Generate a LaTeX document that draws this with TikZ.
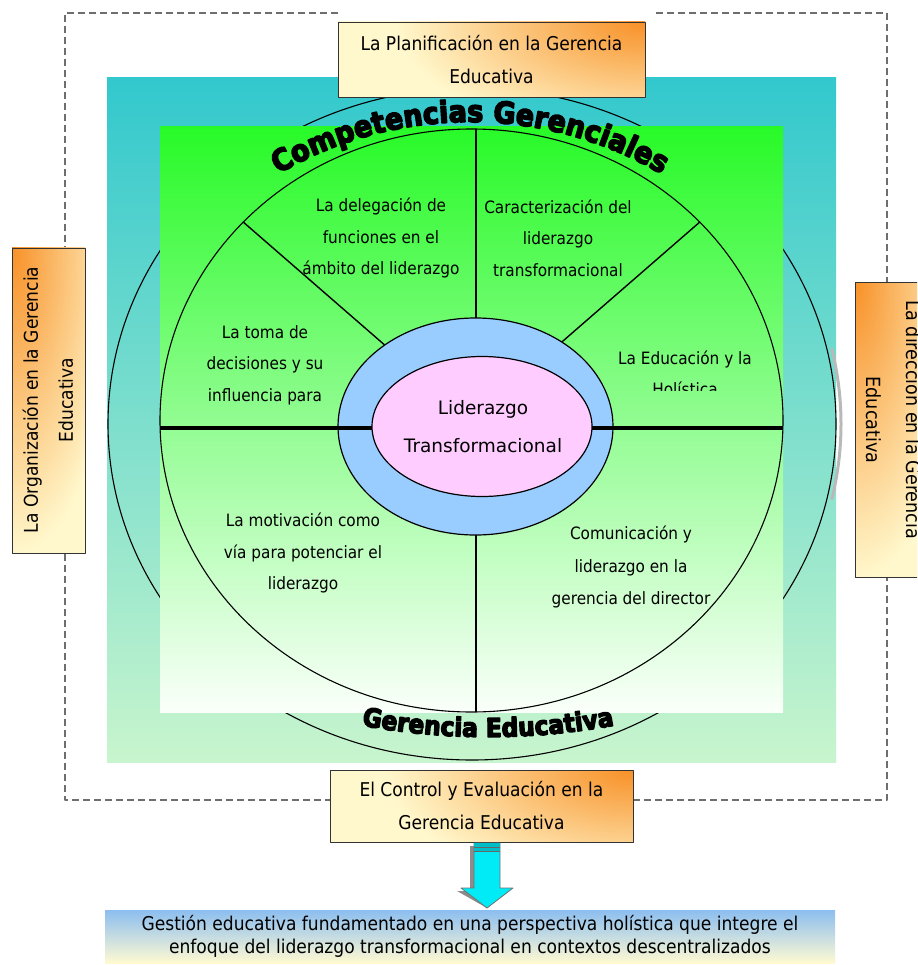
\documentclass[tikz,border=0pt]{standalone}
\usepackage{fontspec}
\setmainfont{DejaVu Sans Condensed}
\newfontfamily\comicf{DejaVu Sans}
\newfontfamily\heavyf[FakeBold=5]{DejaVu Sans Condensed Bold}
\usetikzlibrary{shapes.geometric,decorations.text}
\definecolor{teal1}{RGB}{50,200,205}
\definecolor{mint}{RGB}{200,245,205}
\definecolor{grn1}{RGB}{40,250,40}
\definecolor{grn2}{RGB}{190,250,185}
\definecolor{grn3}{RGB}{250,255,250}
\definecolor{ringblue}{RGB}{153,204,255}
\definecolor{pinkc}{RGB}{255,204,255}
\definecolor{ylw}{RGB}{255,248,205}
\definecolor{orng}{RGB}{248,145,40}
\definecolor{arrcyan}{RGB}{0,235,245}
\definecolor{arrdark}{RGB}{0,190,200}
\definecolor{banblue}{RGB}{140,190,240}
\definecolor{banylw}{RGB}{255,250,210}
\definecolor{dashgray}{RGB}{110,110,110}
\pgfdeclareradialshading{glowshade}{\pgfpoint{0bp}{0bp}}{color(0bp)=(orng); color(12bp)=(ylw); color(50bp)=(ylw)}
\begin{document}
\begin{tikzpicture}[x=1pt,y=-1pt,line join=round,
  gbox/.style={draw=black!80,line width=0.9pt,fill=ylw,inner sep=0pt,align=center},
  glow/.style n args={3}{path picture={\shade[shading=glowshade]
      (path picture bounding box.#1) ellipse [x radius=#2,y radius=#3];}},
  btxt/.style={align=center,inner sep=0pt,font=\fontsize{19}{#1}\selectfont},
  btxt/.default=33,
  stxt/.style={align=center,inner sep=0pt,font=\fontsize{17}{31.5}\selectfont},
  thinline/.style={line width=1.1pt,draw=black},
  sepline/.style={line width=1.4pt,draw=black}]
\useasboundingbox (0,0) rectangle (917,965);
\clip (0,0) rectangle (917,965);
\fill[white] (0,0) rectangle (917,965);

% dashed frame
\draw[dashgray,line width=1.2pt,dash pattern=on 7pt off 4pt]
  (338,13) -| (65,800) -| (887,13) -- (656,13);

% teal square
\shade[top color=teal1,bottom color=mint] (107,78) rectangle (836,762);
% outer circle and its shadow
\draw[gray!55,line width=3pt] (477,424) ++(-13:364pt and 336pt)
  arc[start angle=-13,end angle=13,x radius=364pt,y radius=336pt];
\node[ellipse,thinline,minimum width=728pt,minimum height=672pt,inner sep=0pt] (outer) at (472,424) {};

% green square
\shade[top color=grn1,middle color=grn2,bottom color=grn3] (160,127) rectangle (783,712);

% inner circle
\node[ellipse,thinline,minimum width=623pt,minimum height=583pt,inner sep=0pt] (inner) at (471.5,420.5) {};
\coordinate (vtop) at (476,129.5);
\coordinate (vbot) at (476,712);
\coordinate (hl) at (160,428);
\coordinate (hr) at (783,428);
\draw[sepline] (vtop) -- (vbot);
\draw[sepline] (inner.139) -- (inner.center);
\draw[sepline] (inner.41) -- (inner.center);

% blue ring
\node[ellipse,draw=black,line width=1.2pt,fill=ringblue,minimum width=275pt,minimum height=217pt,inner sep=0pt] (ring) at (475.5,426.5) {};
\draw[line width=3.4pt] (hl) -- (hr);
% pink core
\node[ellipse,draw=black,line width=1.2pt,fill=pinkc,minimum width=220pt,minimum height=140pt,inner sep=0pt] (core) at (482,426.5) {};
\node[align=center,inner sep=0pt,font=\comicf\fontsize{18.5}{38}\selectfont] (coret) at (483,427) {Liderazgo\\Transformacional};

% segment texts
\node[stxt] (seg1) at (381,238) {La delegación de\\funciones en el\\ámbito del liderazgo};
\node[stxt] (seg2) at (558,238) {Caracterización del\\liderazgo\\transformacional};
\node[stxt] (seg3) at (265,365) {La toma de\\decisiones y su\\influencia para};
\begin{scope}
\clip (600,330) rectangle (780,390.5);
\node[align=center,inner sep=0pt,font=\fontsize{17}{31}\selectfont] (seg4) at (685,373) {La Educación y la\\Holística};
\end{scope}
\node[stxt] (seg5) at (303,553) {La motivación como\\vía para potenciar el\\liderazgo};
\begin{scope}
\clip (530,500) rectangle (760,610);
\node[align=center,inner sep=0pt,font=\fontsize{17}{32.5}\selectfont] (seg6) at (631,567) {Comunicación y\\liderazgo en la\\gerencia del director};
\end{scope}

% curved titles
\path[decorate,decoration={text along path,text align=center,
   text={|\heavyf\fontsize{30}{30}\selectfont|Competencias Gerenciales}}]
  (470,500) ++(150:378pt) arc[start angle=150,end angle=30,radius=378pt];
\path[decorate,decoration={text along path,text align=center,
   text={|\heavyf\fontsize{26}{26}\selectfont|Gerencia Educativa}}]
  (488,37) ++(255:700pt) arc[start angle=255,end angle=285,radius=700pt];

% side boxes
\node[gbox,btxt,minimum width=307pt,minimum height=75pt,glow={north east}{520pt}{240pt}] (plan) at (491.5,59.5)
  {La Planificación en la Gerencia\\Educativa};
\node[gbox,btxt,minimum width=303pt,minimum height=72pt,glow={north east}{520pt}{240pt}] (ctrl) at (481.5,806)
  {El Control y Evaluación en la\\Gerencia Educativa};
\node[gbox,minimum width=73pt,minimum height=305pt,glow={north west}{230pt}{640pt}] (org) at (48.5,400.5) {};
\node[btxt=35,rotate=90] (orgt) at (48,400) {La Organización en la Gerencia\\Educativa};
\node[gbox,minimum width=76pt,minimum height=295pt,glow={north west}{230pt}{620pt}] (dir) at (893,429.5) {};
\node[btxt=40,rotate=-90,font=\fontsize{19.5}{40}\selectfont] (dirt) at (894,420) {La dirección en la Gerencia\\Educativa};

% bottom banner
\node[minimum width=730pt,minimum height=53pt,inner sep=0pt,top color=banblue,bottom color=banylw,
  align=center,font=\fontsize{19}{23}\selectfont] (ban) at (470,936.5)
  {Gestión educativa fundamentado en una perspectiva holística que integre el\\enfoque del liderazgo transformacional en contextos descentralizados};

% block arrow from ctrl to ban
\coordinate (atop) at (487,843);
\coordinate (atip) at (487,908);
\fill[black!45,shift={(-4,3)}] (474,843) -- (500,843) -- (500,888) -- (513,888) -- (atip) -- (461,888) -- (474,888) -- cycle;
\draw[fill=arrcyan,draw=black!55,line width=0.8pt] (474,843) -- (500,843) -- (500,888) -- (513,888) -- (atip) -- (461,888) -- (474,888) -- cycle;
\fill[arrdark] (474.4,843.4) rectangle (499.6,851);
\draw[black!60,line width=0.8pt] (474,847) -- (500,847) (474,851) -- (500,851);
\end{tikzpicture}
\end{document}
